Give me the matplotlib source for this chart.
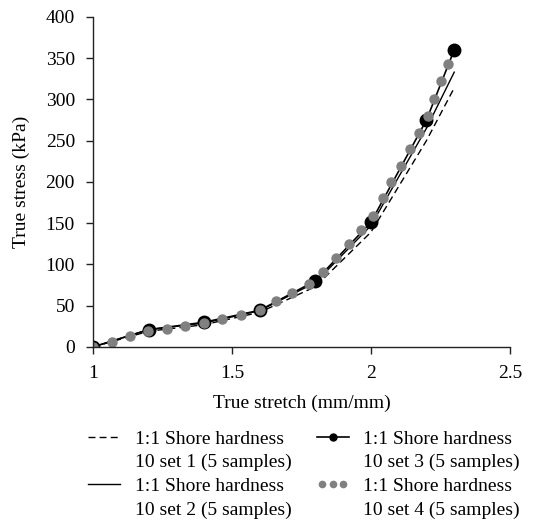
import matplotlib

matplotlib.use("Agg")
import matplotlib.pyplot as plt
from matplotlib.legend_handler import HandlerLine2D

# set 1 / 2 / 3 share the same stretch points
stretch = [1.0, 1.2, 1.4, 1.6, 1.8, 2.0, 2.2, 2.3]
stress_set1 = [0, 19, 27, 42, 73, 139, 250, 314]
stress_set2 = [0, 21, 29, 44, 78, 147, 265, 333]
stress_set3 = [0, 21, 30, 44.5, 80, 151, 275, 360]

stretch_set4 = [1.0, 1.067, 1.133, 1.199, 1.265, 1.331, 1.399, 1.465, 1.531, 1.60,
                1.658, 1.717, 1.777, 1.829, 1.874, 1.921, 1.966, 2.008, 2.042,
                2.074, 2.107, 2.140, 2.173, 2.204, 2.229, 2.254, 2.278]
stress_set4 = [0, 5.7, 13, 19.4, 21.8, 25.9, 29.5, 34.3, 39.2, 44.4,
               55.3, 65.8, 76.3, 91.2, 108.2, 125.2, 141.7, 159, 180,
               199.5, 219.6, 239.3, 259.5, 279.6, 300.7, 322, 343.4]

line1 = "1:1 Shore hardness"
line2 = "10 set {} (5 samples)"

plt.rcParams["font.family"] = ["Liberation Serif", "DejaVu Serif"]
plt.rcParams["font.size"] = 14

fig = plt.figure(figsize=(5.47, 5.27), dpi=100)
ax = fig.add_axes([0.170, 0.3416, 0.762, 0.6264])

l1, = ax.plot(stretch, stress_set1, color="black", lw=1.0, ls=(0, (5, 3)))
l2, = ax.plot(stretch, stress_set2, color="black", lw=1.0)
l3, = ax.plot(stretch, stress_set3, color="black", lw=1.2, marker="o",
              markersize=9)
l4, = ax.plot(stretch_set4, stress_set4, ls="none", marker="o", color="#808080",
              markersize=6.5)

ax.set_xlim(1, 2.5)
ax.set_ylim(0, 400)
ax.set_xticks([1, 1.5, 2, 2.5])
ax.set_xticklabels(["1", "1.5", "2", "2.5"])
ax.set_yticks(range(0, 401, 50))
ax.set_xlabel("True stretch (mm/mm)", labelpad=9)
ax.set_ylabel("True stress (kPa)", labelpad=11)
for side in ("top", "right"):
    ax.spines[side].set_visible(False)
for side in ("left", "bottom"):
    ax.spines[side].set_color("#222222")
    ax.spines[side].set_linewidth(1.0)
ax.tick_params(direction="out", length=5, width=1.0, color="#222222", pad=8)

# legend: first text line carries the handle, second line gets a blank handle
blank = plt.Line2D([], [], ls="none", marker="none")
leg_l3 = plt.Line2D([], [], color="black", lw=1.2, marker="o", markersize=5)
leg_l4 = plt.Line2D([], [], ls="none", marker="o", color="#808080", markersize=4.5)
handles = [l1, blank, l2, blank, leg_l3, blank, leg_l4, blank]
labels = [line1, line2.format(1), line1, line2.format(2),
          line1, line2.format(3), line1, line2.format(4)]
fig.legend(handles, labels,
           loc="upper left", bbox_to_anchor=(0.143, 0.2026), ncol=2,
           frameon=False, handlelength=1.65, handletextpad=0.75,
           columnspacing=1.3, labelspacing=0.32, borderpad=0,
           handler_map={leg_l4: HandlerLine2D(numpoints=3),
                        leg_l3: HandlerLine2D(numpoints=1)})

fig.savefig("out.png", dpi=100)
